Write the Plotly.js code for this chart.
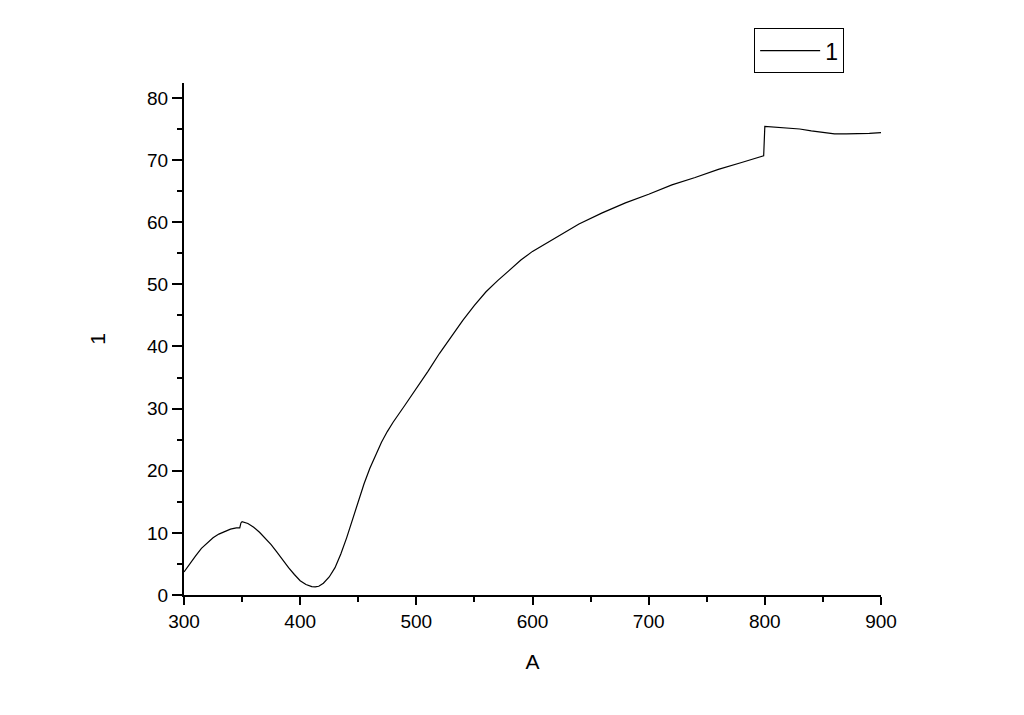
<!DOCTYPE html>
<html>
<head>
<meta charset="utf-8">
<script src="https://cdn.plot.ly/plotly-3.0.1.min.js"></script>
<style>
  body { margin: 0; background: #fff; }
  #chart { width: 1024px; height: 715px; }
</style>
</head>
<body>
<div id="chart"></div>
<script>
// values
const xVals = [300,305,310,315,320,325,330,335,340,345,348,349,350,355,360,365,370,375,380,385,
  390,395,400,405,410,413,416,420,425,430,435,440,445,450,455,460,465,470,475,480,
  490,500,510,520,530,540,550,560,570,580,590,600,620,640,660,680,700,720,740,760,
  780,790,798,799,800,810,820,830,840,850,860,870,880,890,900];
const yVals = [3.7,5.1,6.3,7.5,8.4,9.2,9.8,10.2,10.6,10.8,10.8,11.6,11.8,11.5,10.9,10.1,9.1,8.1,6.9,5.6,
  4.4,3.3,2.3,1.7,1.35,1.3,1.4,1.9,2.9,4.4,6.6,9.2,12.2,15.2,17.9,20.4,22.6,24.6,26.3,27.8,
  30.5,33.2,36.0,38.9,41.6,44.2,46.6,48.8,50.6,52.3,53.9,55.3,57.5,59.7,61.5,63.1,64.5,66.0,67.2,68.5,
  69.6,70.2,70.6,70.7,75.4,75.3,75.2,75.0,74.7,74.4,74.2,74.2,74.2,74.3,74.4];
const seriesName = "1";
const xTitle = "A";
const yTitle = "1";

const font = "Liberation Sans, Arial, sans-serif";

const data = [{
  x: xVals,
  y: yVals,
  type: 'scatter',
  mode: 'lines',
  name: seriesName,
  line: {color: '#000', width: 1.2}
}];

const axisCommon = {
  showgrid: false,
  zeroline: false,
  showline: true,
  linecolor: '#000',
  linewidth: 2,
  ticks: 'outside',
  tickcolor: '#000',
  tickwidth: 2,
  ticklen: 8,
  tickfont: {family: font, size: 19, color: '#000'},
  mirror: false
};

const layout = {
  width: 1024,
  height: 715,
  margin: {l: 184, r: 143, t: 83, b: 120},
  paper_bgcolor: '#fff',
  plot_bgcolor: '#fff',
  font: {family: font, color: '#000'},
  xaxis: Object.assign({}, axisCommon, {
    range: [300, 900],
    dtick: 100,
    minor: {dtick: 50, ticks: 'outside', ticklen: 5, tickwidth: 2, tickcolor: '#000'},
    title: {text: xTitle, font: {family: font, size: 21}, standoff: 24}
  }),
  yaxis: Object.assign({}, axisCommon, {
    range: [0, 82.4],
    dtick: 10,
    ticklen: 10,
    minor: {dtick: 5, ticks: 'outside', ticklen: 5, tickwidth: 2, tickcolor: '#000'},
    title: {text: yTitle, font: {family: font, size: 21}, standoff: 36}
  }),
  showlegend: true,
  legend: {
    x: 0.818, y: 1.107, xanchor: 'left', yanchor: 'top',
    bordercolor: '#000', borderwidth: 1, bgcolor: '#fff',
    itemwidth: 60,
    font: {family: font, size: 23, color: '#000'}
  }
};

Plotly.newPlot('chart', data, layout, {displayModeBar: false});
</script>
</body>
</html>
